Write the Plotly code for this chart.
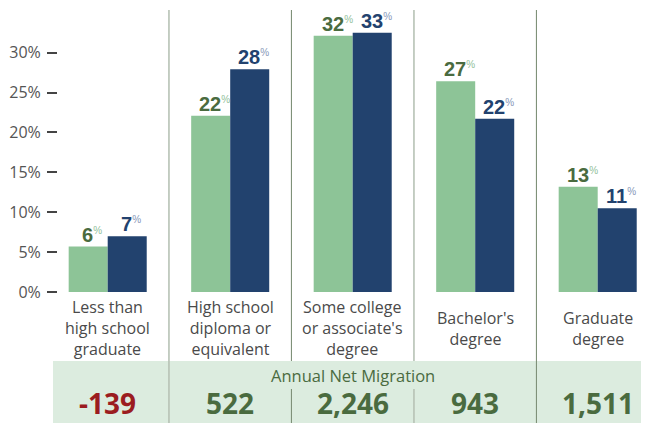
import plotly.graph_objects as go

categories = ["Less than high school graduate", "High school diploma or equivalent",
              "Some college or associate's degree", "Bachelor's degree", "Graduate degree"]
category_labels = ["Less than<br>high school<br>graduate",
                   "High school<br>diploma or<br>equivalent",
                   "Some college<br>or associate's<br>degree",
                   "Bachelor's<br>degree",
                   "Graduate<br>degree"]
series_green = [5.7, 22.1, 32.1, 26.4, 13.2]
series_blue = [7.0, 27.9, 32.5, 21.7, 10.5]
labels_green = ["6", "22", "32", "27", "13"]
labels_blue = ["7", "28", "33", "22", "11"]
migration = [-139, 522, 2246, 943, 1511]
tick_vals = [0, 5, 10, 15, 20, 25, 30]
tick_text = ["0%", "5%", "10%", "15%", "20%", "25%", "30%"]

GREEN = "#8dc497"
BLUE = "#22426e"
GREEN_TXT = "#4a6b3f"
RED_TXT = "#9b1c20"
FONT = "Open Sans"
LABEL_FONT = "Liberation Sans"

OFF = 8  # page body margin
W, H = 649 - OFF, 423 - OFF
L = 58 - OFF
x_pos = list(range(len(categories)))

fig = go.Figure()
fig.add_trace(go.Bar(x=x_pos, y=series_green, marker=dict(color=GREEN, line=dict(width=0)),
                     hoverinfo="skip", showlegend=False))
fig.add_trace(go.Bar(x=x_pos, y=series_blue, marker=dict(color=BLUE, line=dict(width=0)),
                     hoverinfo="skip", showlegend=False))

# pixel (window) -> paper helpers (layout only)
def py(px):
    return 1 - (px - OFF) / H

def pxp(px):
    return (px - OFF - L) / (W - L)

half = 0.1592
ann = []
for i in x_pos:
    ann.append(dict(x=i - half, y=series_green[i], xref="x", yref="y", xanchor="center", yanchor="bottom",
                    xshift=4, yshift=0, showarrow=False, borderpad=0,
                    text="<b>%s</b><sup><span style='font-size:10px;color:%s'>%%</span></sup>" % (labels_green[i], "#93bf9b"),
                    font=dict(family=LABEL_FONT, size=20, color=GREEN_TXT)))
    ann.append(dict(x=i + half, y=series_blue[i], xref="x", yref="y", xanchor="center", yanchor="bottom",
                    xshift=4, yshift=0, showarrow=False, borderpad=0,
                    text="<b>%s</b><sup><span style='font-size:10px;color:%s'>%%</span></sup>" % (labels_blue[i], "#8797b8"),
                    font=dict(family=LABEL_FONT, size=20, color=BLUE)))
    ann.append(dict(x=i, y=py(328), xref="x", yref="paper", xanchor="center", yanchor="middle",
                    showarrow=False, text=category_labels[i], borderpad=0,
                    font=dict(family=FONT, size=16, color="#4a4a4a")))
    val = migration[i]
    ann.append(dict(x=i, y=py(403), xref="x", yref="paper", xanchor="center", yanchor="middle",
                    showarrow=False, text="<b>%s</b>" % format(val, ","), borderpad=0,
                    font=dict(family=FONT, size=28, color=RED_TXT if val < 0 else GREEN_TXT)))

ann.append(dict(x=2, y=py(375), xref="x", yref="paper", xanchor="center", yanchor="middle",
                showarrow=False, text="Annual Net Migration", borderpad=0,
                font=dict(family=FONT, size=16.5, color=GREEN_TXT)))

shapes = []
shapes.append(dict(type="rect", xref="paper", yref="paper", x0=pxp(53), x1=1.01,
                   y0=py(424), y1=py(361), fillcolor="#dcecdf", line=dict(width=0), layer="below"))
LIGHT = dict(color="#b7c2b5", width=1.6)
DARK = dict(color="#7f9179", width=1.1)
shapes.append(dict(type="line", xref="x", yref="paper", x0=0.5, x1=0.5, y0=py(10), y1=py(424), line=LIGHT))
shapes.append(dict(type="line", xref="x", yref="paper", x0=3.5, x1=3.5, y0=py(10), y1=py(424), line=DARK))
for b, st in [(1.5, DARK), (2.5, LIGHT)]:
    shapes.append(dict(type="line", xref="x", yref="paper", x0=b, x1=b, y0=py(10), y1=py(361), line=st))
    shapes.append(dict(type="line", xref="x", yref="paper", x0=b, x1=b, y0=py(389), y1=py(424), line=st))

px_per = 7.98
zero_px = 292 - OFF
c0 = 107.7 - OFF
sp = 122.5
fig.update_layout(
    width=W, height=H,
    margin=dict(l=L, r=0, t=0, b=0),
    paper_bgcolor="white", plot_bgcolor="rgba(0,0,0,0)",
    barmode="group", bargap=0.363, bargroupgap=0,
    annotations=ann, shapes=shapes,
    xaxis=dict(range=[(L - c0) / sp, (W - c0) / sp], showticklabels=False,
               showgrid=False, zeroline=False, showline=False, ticks=""),
    yaxis=dict(range=[(zero_px - H) / px_per, zero_px / px_per], tickvals=tick_vals, ticktext=tick_text,
               showgrid=False, zeroline=False, showline=False, ticks="outside", ticklen=10,
               tickwidth=2, tickcolor="#444444", ticklabelstandoff=3,
               tickfont=dict(family=FONT, size=16, color="#555555")),
    font=dict(family=FONT),
)

fig.write_html("out.html")
